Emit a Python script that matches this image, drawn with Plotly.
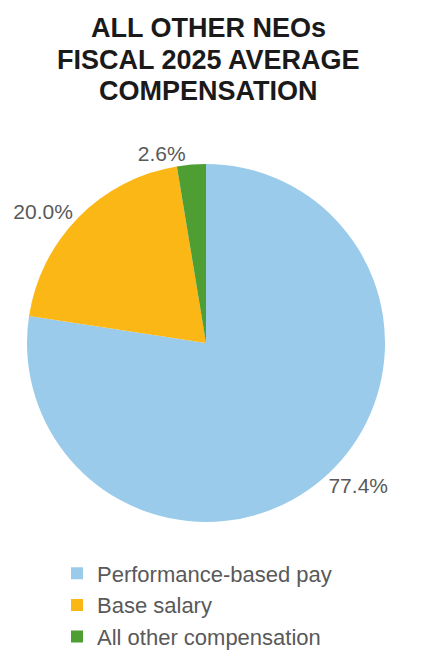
import plotly.graph_objects as go

# slice data
labels = ["Performance-based pay", "Base salary", "All other compensation"]
values = [77.4, 20.0, 2.6]
slice_text = ["77.4%", "20.0%", "2.6%"]
colors = ["#9ACBEB", "#FBB716", "#4E9E34"]

# title lines
title_lines = ["ALL OTHER NEOs", "FISCAL 2025 AVERAGE", "COMPENSATION"]

W, H = 422, 652
FONT = "Liberation Sans, Arial, sans-serif"

fig = go.Figure(
    go.Pie(
        labels=labels,
        values=values,
        text=slice_text,
        textinfo="text",
        textposition="outside",
        sort=False,
        direction="clockwise",
        rotation=0,
        marker=dict(colors=colors, line=dict(width=0)),
        outsidetextfont=dict(family=FONT, size=21, color="#595959"),
        hoverinfo="label+percent",
        # page body has an 8px margin, so positions are shifted by -8px
        domain=dict(x=[19 / W, 377 / W], y=[138 / H, 496 / H]),
    )
)

# title, one annotation per line to keep the tight line spacing
for i, line in enumerate(title_lines):
    fig.add_annotation(
        text="<b>%s</b>" % line,
        x=0.475,
        y=(H - (20.5 + 31 * i)) / H,
        xref="paper",
        yref="paper",
        xanchor="center",
        yanchor="middle",
        showarrow=False,
        font=dict(family=FONT, size=27, color="#1a1a1a"),
    )

fig.update_layout(
    width=W,
    height=H,
    margin=dict(l=0, r=0, t=0, b=0),
    paper_bgcolor="white",
    plot_bgcolor="white",
    legend=dict(
        x=49 / W,
        xanchor="left",
        y=55 / H,
        yanchor="middle",
        font=dict(family=FONT, size=22, color="#595959"),
        tracegroupgap=0,
    ),
)

fig.write_html("out.html")
